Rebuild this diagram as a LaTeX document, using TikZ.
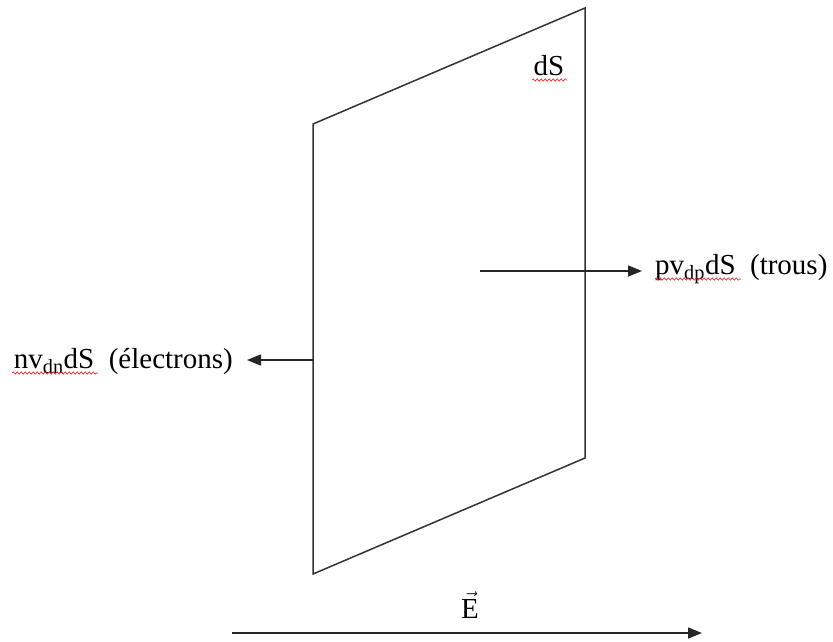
\documentclass[tikz,border=0pt]{standalone}
\usepackage{fontspec}
\setmainfont{Liberation Serif}
\usetikzlibrary{arrows.meta,decorations.pathmorphing}
\begin{document}
\begin{tikzpicture}[x=1pt,y=-1pt,
  lbl/.style={inner sep=0pt,font=\fontsize{29}{34}\selectfont},
  vec/.style={line width=1.5pt,draw=black!85,-{Triangle[length=14pt,width=11pt]}},
  edge/.style={line width=1.5pt,draw=black!80},
  spell/.style={draw=red!90,line width=0.6pt,decorate,decoration={snake,amplitude=1.2pt,segment length=4pt}}]
\useasboundingbox (0,0) rectangle (833,641);
% parallelogram
\coordinate (A) at (313,124);
\coordinate (B) at (585,8);
\coordinate (C) at (585,458);
\coordinate (D) at (313,574);
\draw[edge,line join=miter] (A) -- (B) -- (C) -- (D) -- cycle;
\node[lbl,anchor=base] (ds) at (549,75) {dS};
\draw[spell] (532,80) -- (567,80);
% right arrow
\coordinate (r0) at (480,271);
\coordinate (rtip) at (642,271);
\node[lbl,anchor=base west] (trous) at (655,274) {pv\textsubscript{dp}dS\ \ (trous)};
\draw[vec] (r0) -- (rtip);
\draw[spell] (655,279) -- (741,279);
% left arrow
\coordinate (l0) at (313,360);
\coordinate (ltip) at (247,360);
\node[lbl,anchor=base east] (elec) at (233,368) {nv\textsubscript{dn}dS\ \ (électrons)};
\draw[vec] (l0) -- (ltip);
\draw[spell] (12,373) -- (98,373);
% bottom arrow
\coordinate (b0) at (232,633);
\coordinate (b1) at (702,633);
\draw[vec] (b0) -- (b1);
\node[lbl,anchor=base] (E) at (470,618) {$\vec{\mathrm{E}}$};
\end{tikzpicture}
\end{document}
